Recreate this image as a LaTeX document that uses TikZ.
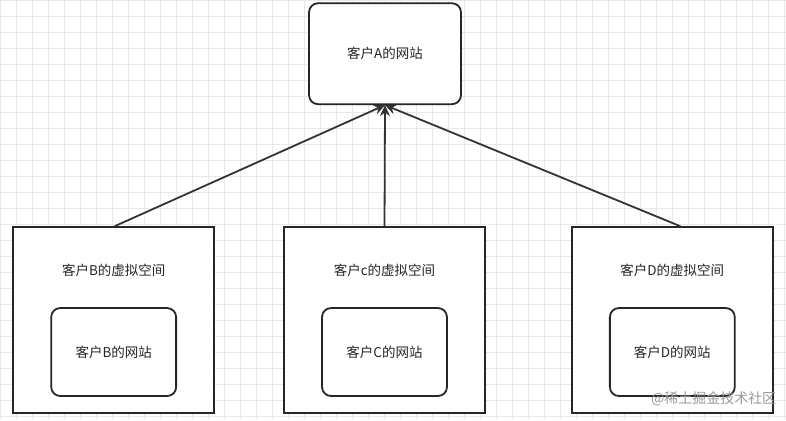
\documentclass[tikz,border=0pt]{standalone}
\usepackage{fontspec}
\setmainfont{Noto Sans CJK SC}
\usetikzlibrary{arrows.meta}
\begin{document}
\begin{tikzpicture}[x=1pt,y=-1pt,
  box/.style={draw=black!85,line width=1.8pt,fill=white,inner sep=0pt,font=\fontsize{13.5}{16}\selectfont,text=black!85},
  rbox/.style={box,rounded corners=9pt},
  arr/.style={draw=black!80,line width=1.8pt,-{Stealth[length=11pt,width=10pt]}}]
\fill[white] (0,0) rectangle (786,420);
\foreach \i in {0,16,...,786} \draw[black!9,line width=0.5pt] (\i,0) -- (\i,420);
\foreach \i in {0,16,...,420} \draw[black!9,line width=0.5pt] (0,\i) -- (786,\i);
\useasboundingbox (0,0) rectangle (786,420);
\node[rbox,minimum width=152pt,minimum height=101pt] (A) at (385,53.5) {客户A的网站};
\foreach \n/\x/\l/\w in {B/113.5/B/B,C/384.5/c/C,D/672.5/D/D}{
  \node[box,minimum width=201pt,minimum height=186pt] (\n) at (\x,320) {};
  \node[font=\fontsize{13.5}{16}\selectfont,text=black!85] (\n t) at (\x,270) {客户\l 的虚拟空间};
  \node[rbox,minimum width=125pt,minimum height=88pt] (\n w) at (\x,352) {客户\w 的网站};
}
\draw[arr] (B.north) ++(1,0) coordinate (b1) (b1) -- (A.south);
\draw[arr] (C.north) -- (A.south);
\draw[arr] (D.north) ++(8,0) coordinate (d1) (d1) -- (A.south);
\node[text=black!40,font=\fontsize{14}{16}\selectfont,anchor=east] (wm) at (780,399) {@稀土掘金技术社区};
\end{tikzpicture}
\end{document}
